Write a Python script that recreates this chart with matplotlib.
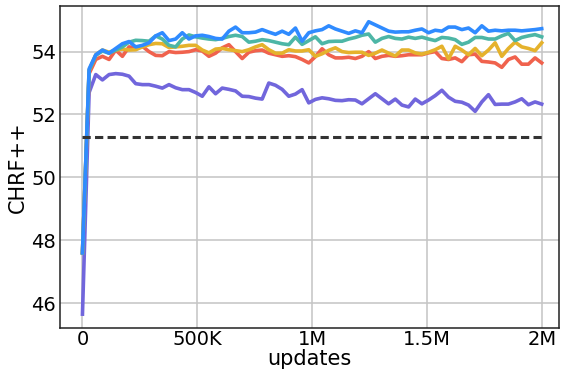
import numpy as np
import matplotlib
matplotlib.use("Agg")
import matplotlib.pyplot as plt

# evaluation checkpoints (70 evals over 2M updates)
updates = np.linspace(0, 2_000_000, 70)

blue = [47.6, 53.45, 53.9, 54.05, 53.95, 54.1, 54.25, 54.32, 54.15, 54.2,
        54.28, 54.5, 54.6, 54.35, 54.4, 54.6, 54.4, 54.5, 54.52, 54.48,
        54.42, 54.4, 54.65, 54.78, 54.6, 54.6, 54.62, 54.7, 54.62, 54.55,
        54.65, 54.55, 54.75, 54.33, 54.6, 54.66, 54.7, 54.82, 54.72, 54.65,
        54.58, 54.66, 54.6, 54.95, 54.85, 54.75, 54.65, 54.62, 54.63, 54.63,
        54.68, 54.72, 54.6, 54.68, 54.65, 54.78, 54.78, 54.7, 54.75, 54.6,
        54.82, 54.65, 54.68, 54.66, 54.68, 54.68, 54.66, 54.68, 54.7, 54.73]

teal = [47.6, 53.4, 53.88, 54.02, 53.95, 54.05, 54.15, 54.3, 54.36, 54.35,
        54.33, 54.5, 54.4, 54.2, 54.15, 54.4, 54.53, 54.47, 54.43, 54.4,
        54.38, 54.42, 54.48, 54.52, 54.48, 54.3, 54.33, 54.38, 54.35, 54.3,
        54.25, 54.22, 54.46, 54.23, 54.35, 54.47, 54.25, 54.32, 54.33, 54.33,
        54.4, 54.45, 54.52, 54.56, 54.3, 54.42, 54.48, 54.42, 54.4, 54.46,
        54.42, 54.46, 54.4, 54.35, 54.45, 54.43, 54.38, 54.23, 54.3, 54.45,
        54.45, 54.4, 54.4, 54.5, 54.58, 54.35, 54.45, 54.5, 54.54, 54.47]

yellow = [47.6, 53.4, 53.9, 54.05, 53.98, 54.05, 54.08, 54.05, 54.06, 54.15,
          54.22, 54.26, 54.25, 54.13, 54.15, 54.17, 54.2, 54.2, 54.05, 53.96,
          54.08, 54.1, 54.06, 54.03, 54.0, 54.06, 54.15, 54.22, 54.06, 53.95,
          53.95, 54.06, 54.02, 54.02, 54.06, 53.85, 53.93, 54.04, 54.12, 54.0,
          53.97, 53.98, 53.98, 53.88, 53.95, 54.05, 53.95, 53.86, 54.05, 54.05,
          53.96, 53.92, 53.98, 54.06, 54.17, 53.77, 54.17, 54.05, 53.9, 54.1,
          53.87, 54.05, 54.28, 53.85, 54.1, 54.3, 54.15, 54.1, 54.03, 54.28]

red = [47.6, 53.3, 53.75, 53.85, 53.75, 54.05, 53.85, 54.15, 54.12, 54.17,
       54.0, 53.88, 53.87, 54.0, 53.97, 53.98, 54.0, 54.06, 54.02, 53.85,
       53.95, 54.12, 54.22, 54.0, 53.78, 53.98, 54.03, 54.05, 53.95, 53.9,
       53.85, 53.87, 53.84, 53.75, 53.64, 53.84, 54.09, 53.9, 53.8, 53.8,
       53.82, 53.78, 53.85, 54.0, 53.78, 53.85, 53.88, 53.85, 53.87, 53.9,
       53.9, 53.9, 53.96, 54.0, 53.78, 53.75, 53.8, 53.68, 53.9, 53.92,
       53.69, 53.67, 53.64, 53.5, 53.75, 53.83, 53.6, 53.6, 53.8, 53.64]

purple = [45.65, 52.7, 53.27, 53.1, 53.27, 53.3, 53.28, 53.22, 52.98, 52.95,
          52.95, 52.9, 52.84, 52.95, 52.85, 52.79, 52.79, 52.7, 52.58, 52.88,
          52.66, 52.84, 52.8, 52.75, 52.58, 52.57, 52.52, 52.49, 53.0, 52.93,
          52.8, 52.58, 52.65, 52.79, 52.37, 52.48, 52.53, 52.5, 52.45, 52.44,
          52.47, 52.46, 52.34, 52.5, 52.66, 52.5, 52.34, 52.49, 52.3, 52.24,
          52.49, 52.34, 52.46, 52.6, 52.77, 52.55, 52.42, 52.39, 52.3, 52.1,
          52.4, 52.63, 52.32, 52.33, 52.33, 52.4, 52.5, 52.31, 52.4, 52.33]

baseline = 51.3

xticks = [0, 500_000, 1_000_000, 1_500_000, 2_000_000]
xticklabels = ["0", "500K", "1M", "1.5M", "2M"]
yticks = [46, 48, 50, 52, 54]

fig = plt.figure(figsize=(5.62, 3.74), dpi=100)
ax = fig.add_axes([59.5 / 562, 1 - 328.3 / 374, (558.7 - 59.5) / 562, (328.3 - 5.7) / 374])

lw = 2.6
ax.plot(updates, purple, color="#7166DC", lw=lw)
ax.plot(updates, red, color="#F0624D", lw=lw)
ax.plot(updates, yellow, color="#E5B22C", lw=lw)
ax.plot(updates, teal, color="#4DB6A6", lw=lw)
ax.plot(updates, blue, color="#2F8BFF", lw=lw)
ax.plot([updates[0], updates[-1]], [baseline, baseline], color="#333333",
        lw=2.2, linestyle=(0, (2.7, 1.4)))

ax.set_xlim(-100_000, 2_074_000)
ax.set_ylim(45.2, 55.46)
ax.set_xticks(xticks)
ax.set_xticklabels(xticklabels)
ax.set_yticks(yticks)
ax.tick_params(length=0, labelsize=14)
ax.tick_params(axis="x", pad=1)
ax.tick_params(axis="y", pad=2.5)
ax.grid(True, color="#c4c4c4", lw=1.1)
ax.set_axisbelow(True)
for s in ax.spines.values():
    s.set_color("#222222")
    s.set_linewidth(1.1)
ax.set_xlabel("updates", fontsize=15, labelpad=0)
ax.set_ylabel("CHRF++", fontsize=15, labelpad=2)

fig.savefig("out.png", dpi=100)
